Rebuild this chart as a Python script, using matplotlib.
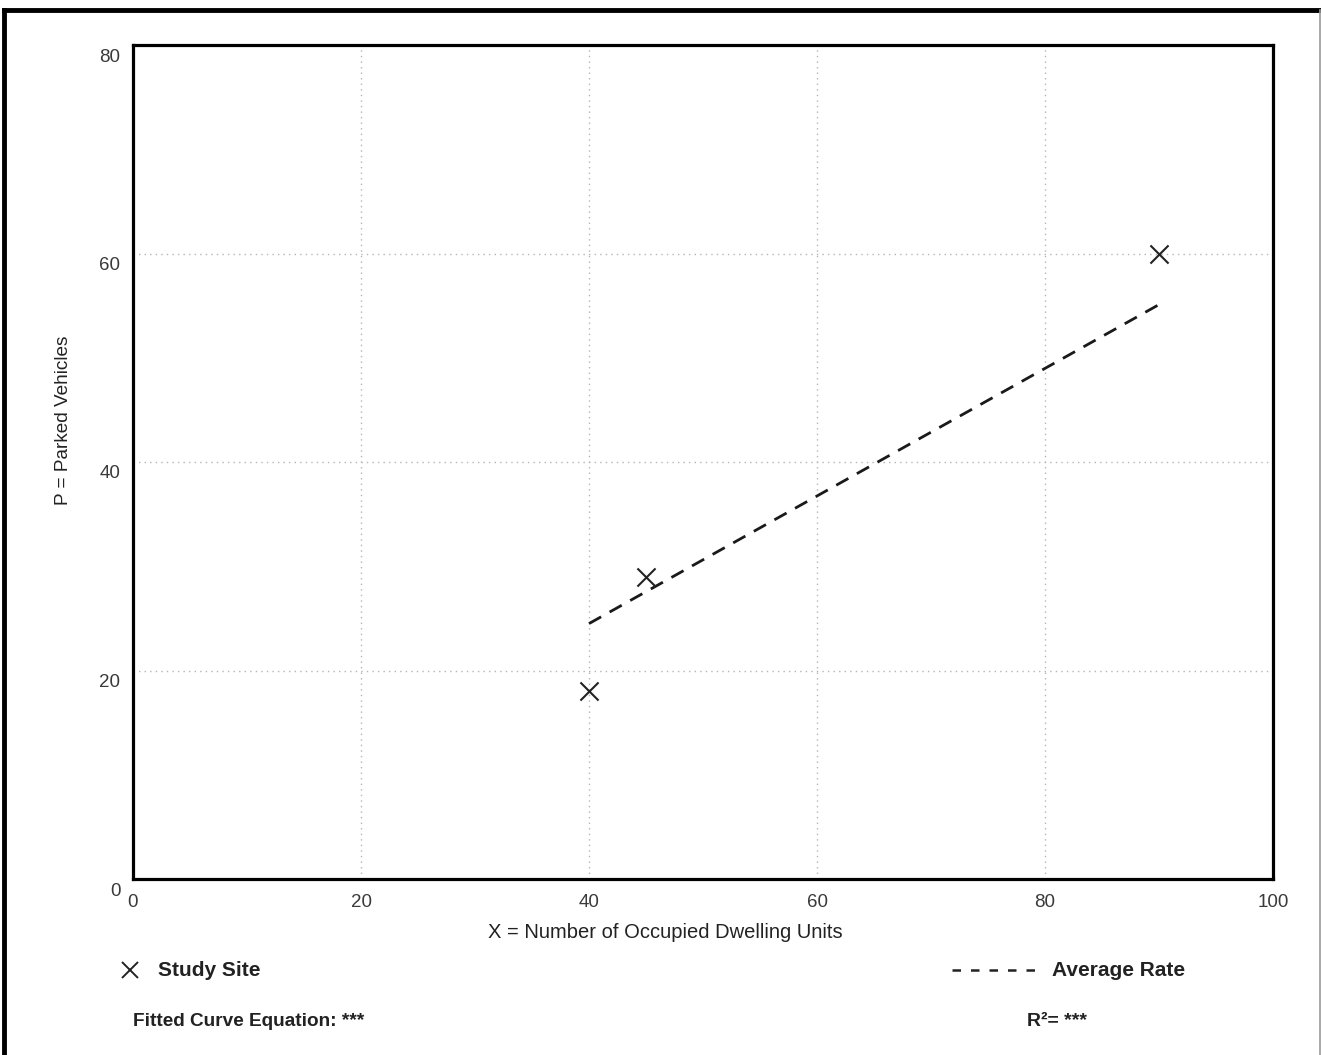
import matplotlib
matplotlib.use("Agg")
import matplotlib.pyplot as plt
from matplotlib.lines import Line2D
from matplotlib.transforms import ScaledTranslation

plt.rcParams['font.family'] = ['Liberation Sans', 'DejaVu Sans']

# study sites (occupied dwelling units, parked vehicles)
site_x = [40, 45, 90]
site_p = [18, 29, 60]

# average rate line
rate_x = [40, 90]
rate_p = [24.5, 55.1]

x_ticks = [0, 20, 40, 60, 80, 100]
y_ticks = [0, 20, 40, 60, 80]

W, H = 1321, 1055
fig = plt.figure(figsize=(W / 100, H / 100), dpi=100)

# outer frame (cropped)
fig.add_artist(Line2D([4 / W, 4 / W], [0, 1 - 10 / H], color='black', lw=3.5, transform=fig.transFigure))
fig.add_artist(Line2D([4 / W, 1], [1 - 10 / H, 1 - 10 / H], color='black', lw=3.5, transform=fig.transFigure))
fig.add_artist(Line2D([1319.5 / W, 1319.5 / W], [0, 1 - 10 / H], color='#999999', lw=1.2, transform=fig.transFigure))

ax = fig.add_axes([133 / W, 176 / H, 1140 / W, 834 / H])
ax.set_xlim(0, 100)
ax.set_ylim(0, 80)

ax.plot(rate_x, rate_p, color='#1a1a1a', lw=2, linestyle=(0, (5, 3.5)), zorder=3)
ax.scatter(site_x, site_p, marker='x', s=170, color='#222222', linewidths=1.5, zorder=4)

ax.set_xticks(x_ticks)
ax.set_yticks(y_ticks)
ax.tick_params(length=0, labelsize=13.5, labelcolor='#3a3a3a')
ax.tick_params(axis='x', pad=11)
ax.tick_params(axis='y', pad=9)
for lab in ax.get_yticklabels():
    lab.set_transform(lab.get_transform() + ScaledTranslation(0, -0.10, fig.dpi_scale_trans))

ax.grid(True, linestyle=(0, (1, 3)), color='#b5b5b5', lw=1)
for s in ax.spines.values():
    s.set_linewidth(2.3)
    s.set_color('black')

fig.text(63 / W, 1 - 420 / H, 'P = Parked Vehicles', rotation=90, ha='center', va='center',
         fontsize=13.7, color='#222222')
fig.text(665 / W, 1 - 932 / H, 'X = Number of Occupied Dwelling Units', ha='center', va='center',
         fontsize=14.5, color='#222222')

# legend area
fig.add_artist(Line2D([130 / W], [1 - 970 / H], marker='x', markersize=12, mew=1.4, color='#222222',
                      linestyle='none', transform=fig.transFigure))
fig.text(158 / W, 1 - 970 / H, 'Study Site', ha='left', va='center', fontsize=15, fontweight='bold', color='#222222')
fig.text(133 / W, 1 - 1021 / H, 'Fitted Curve Equation: ***', ha='left', va='center', fontsize=13.7,
         fontweight='bold', color='#222222')
fig.add_artist(Line2D([952 / W, 1040 / W], [1 - 970 / H, 1 - 970 / H], color='#222222', lw=1.8,
                      linestyle=(0, (3.4, 4)), transform=fig.transFigure))
fig.text(1052 / W, 1 - 970 / H, 'Average Rate', ha='left', va='center', fontsize=15, fontweight='bold', color='#222222')
fig.text(1027 / W, 1 - 1021 / H, 'R²= ***', ha='left', va='center', fontsize=14, fontweight='bold', color='#222222')

fig.savefig('out.png', dpi=100, facecolor='white')
